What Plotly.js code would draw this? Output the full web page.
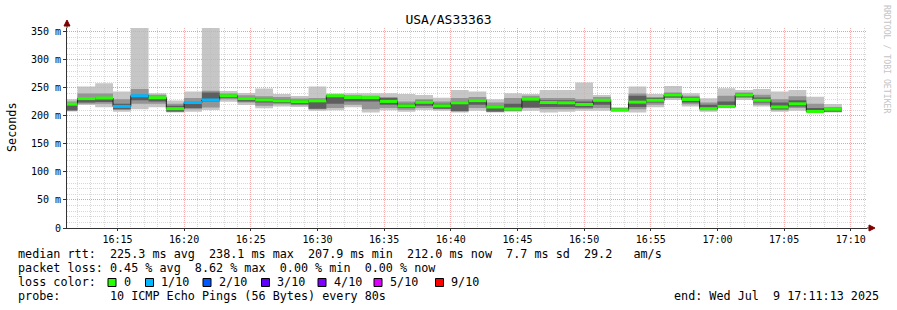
<!DOCTYPE html>
<html>
<head>
<meta charset="utf-8">
<script src="https://cdn.plot.ly/plotly-3.0.1.min.js"></script>
<style>
  html, body { margin: 0; padding: 0; background: #ffffff; }
  #chart { width: 897px; height: 310px; }
</style>
</head>
<body>
<div id="chart"></div>
<script>
// ---------- DATA (ms) ----------
const chartTitle = 'USA/AS33363';
const stepStartUTC = [2025, 6, 9, 16, 10, 40];   // first 80 s step start
const stepSeconds = 80;

// per-step median RTT (ms)
const median = [221, 231, 232, 217, 236, 232.5, 213, 224, 228.5, 236,
                231, 228.5, 227, 225.5, 227, 236, 233, 232.7, 226, 218,
                224.4, 218, 223.5, 227.4, 216, 212.5, 230, 224, 223.5, 220.5,
                228, 210.7, 224.7, 228, 237.5, 229.5, 213, 217, 237.5, 228,
                216, 221.7, 208, 212];
// per-step loss (pings lost out of 10)
const lossTenths = [0, 0, 0, 1, 1, 0, 0, 1, 1, 0,
                    0, 0, 0, 0, 0, 0, 0, 0, 0, 0,
                    0, 0, 0, 0, 0, 0, 0, 0, 0, 0,
                    0, 0, 0, 0, 0, 0, 0, 0, 0, 0,
                    0, 0, 0, 0];
// smoke: fastest / slowest ping
const pingMin = [208, 219.6, 215.5, 207.7, 212, 215.5, 206, 207.7, 210.7, 225.5,
                 219.6, 213.7, 217, 216, 209.5, 210, 215.5, 206, 210, 207.7,
                 210.7, 209.5, 206, 209.5, 206, 207.7, 209.5, 206, 207.7, 209.5,
                 209.5, 207.7, 206, 215.5, 228.6, 216.7, 207.7, 213.7, 228.6, 216.7,
                 207.7, 209.5, 206, 206];
const pingMax = [230, 252.4, 258.3, 243.5, 357, 240.5, 227.4, 243.5, 357, 244.6,
                 241, 249, 239.3, 235.7, 252.4, 240, 240.5, 240.5, 240.5, 239.3,
                 237.5, 232.7, 246.4, 243.5, 229.8, 240.5, 239.3, 246.4, 246.4, 259.5,
                 237.5, 215.5, 252.4, 239.3, 253.6, 240.5, 231.5, 249.4, 246.4, 248.2,
                 243.5, 246.4, 234.5, 221.4];
// smoke: middle spread of pings
const pingLowQ = [209, 222, 222, 211, 222, 222, 207, 212, 215, 230,
                  224, 218, 221, 219, 212, 214, 220, 212, 214, 211,
                  214, 212, 208, 214, 207, 209, 214, 212, 212, 213,
                  214, 208.5, 212, 220, 232, 221, 210, 215, 232, 220,
                  210, 214, 206.5, 207];
const pingHighQ = [226, 240, 240, 230, 248, 238, 222, 232, 245, 240,
                   237, 235, 234, 231, 232, 238, 237, 236, 234, 226,
                   230, 226, 232, 234, 224, 232, 236, 232, 232, 230,
                   234, 214, 240, 234, 242, 236, 224, 236, 242, 238,
                   230, 235, 222, 216];
// smoke: pings closest to the median
const pingLowC = [210, 224, 225, 212, 228, 226, 208, 214, 226, 232,
                  226, 224, 223, 221, 213, 222, 226, 226, 220, 214,
                  218, 213, 209, 220, 208, 210, 215, 216, 216, 215,
                  220, 209, 216, 224, 233, 224, 211, 215, 234, 224,
                  212, 217, 207, 208];
const pingHighC = [222, 232, 233, 222, 238, 234, 218, 226, 242, 238,
                   234, 231, 230, 228, 229, 237, 235, 234, 232, 222,
                   227, 222, 226, 230, 218, 222, 231, 228, 228, 226,
                   230, 213, 236, 232, 240, 233, 220, 226, 240, 233,
                   224, 228, 214, 214];

// legend texts
const statsRtt = 'median rtt:  225.3 ms avg  238.1 ms max  207.9 ms min  212.0 ms now  7.7 ms sd  29.2   am/s';
const statsLoss = 'packet loss: 0.45 % avg  8.62 % max  0.00 % min  0.00 % now';
const lossLabels = ['0', '1/10', '2/10', '3/10', '4/10', '5/10', '9/10'];
const lossColors = ['#26ff00', '#00b8ff', '#0059ff', '#5e00ff', '#7e00ff', '#dd00ff', '#ff0000'];
const probeText = 'probe:       10 ICMP Echo Pings (56 Bytes) every 80s';
const endText = 'end: Wed Jul  9 17:11:13 2025';
const yTickVals = [0, 50, 100, 150, 200, 250, 300, 350];
const yTickText = ['0', '50 m', '100 m', '150 m', '200 m', '250 m', '300 m', '350 m'];

// ---------- BUILD ----------
const MONO = 'DejaVu Sans Mono, monospace';
const t0 = Date.UTC.apply(null, stepStartUTC);
const nSteps = median.length;
const xs = [];
for (let i = 0; i <= nSteps; i++) xs.push(t0 + i * stepSeconds * 1000);
const stepY = a => a.concat([a[a.length - 1]]);

const traces = [];
function band(lo, hi, color) {
  traces.push({x: xs, y: stepY(lo), type: 'scatter', mode: 'lines',
    line: {shape: 'hv', width: 0, color: color}, hoverinfo: 'skip', showlegend: false});
  traces.push({x: xs, y: stepY(hi), type: 'scatter', mode: 'lines',
    line: {shape: 'hv', width: 0, color: color}, fill: 'tonexty', fillcolor: color,
    hoverinfo: 'skip', showlegend: false});
}
band(pingMin, pingMax, 'rgba(185,185,185,0.82)');
band(pingLowQ, pingHighQ, 'rgba(140,140,140,0.85)');
band(pingLowC, pingHighC, 'rgba(85,85,85,0.85)');

// black median stair line
traces.push({x: xs, y: stepY(median), type: 'scatter', mode: 'lines',
  line: {shape: 'hv', width: 1, color: '#202020'}, hoverinfo: 'skip', showlegend: false});

// loss-coloured median segments
const lossLevelIndex = {0: 0, 1: 1, 2: 2, 3: 3, 4: 4, 5: 5, 10: 6};
lossColors.forEach((c, ci) => {
  const sx = [], sy = [];
  for (let i = 0; i < nSteps; i++) {
    const li = lossTenths[i] >= 6 ? 6 : lossLevelIndex[lossTenths[i]];
    if (li === ci) { sx.push(xs[i], xs[i + 1], null); sy.push(median[i], median[i], null); }
  }
  if (sx.length) traces.push({x: sx, y: sy, type: 'scatter', mode: 'lines',
    line: {width: 3, color: c}, hoverinfo: 'skip', showlegend: false});
});

// ---------- LAYOUT ----------
const L = 67, T = 28, PW = 800, PH = 200;
const px = v => (v - L) / PW;        // figure px -> paper x
const py = v => (T + PH - v) / PH;   // figure px -> paper y

const ann = [];
function text(t, x, y, opts) {
  ann.push(Object.assign({text: t, xref: 'paper', yref: 'paper', x: px(x), y: py(y),
    xanchor: 'left', yanchor: 'middle', showarrow: false,
    font: {family: MONO, size: 11.75, color: '#000'}}, opts || {}));
}
text(statsRtt, 16, 254);
text(statsLoss, 16, 268);
text('loss color:', 16, 282);
text(probeText, 16, 296);
text(endText, 881, 296, {xanchor: 'right'});
text('Seconds', 12, 127, {xanchor: 'center', textangle: -90});
text('RRDTOOL / TOBI OETIKER', 887, 60,
  {xanchor: 'center', textangle: 90, font: {family: MONO, size: 8.2, color: '#c4c4c4'}});

const shapes = [];
const boxX = [108, 145.5, 203, 261.5, 318, 374, 435.5];
const labX = [121.5, 158.5, 216.5, 275, 331.5, 387.5, 449];
lossColors.forEach((c, i) => {
  shapes.push({type: 'rect', xref: 'paper', yref: 'paper',
    x0: px(boxX[i]), x1: px(boxX[i] + 8), y0: py(286.5), y1: py(278.5),
    line: {color: '#000', width: 1}, fillcolor: c});
  text(lossLabels[i], labX[i], 282);
});
// axis arrows
shapes.push({type: 'line', xref: 'paper', yref: 'paper', x0: 1, x1: px(871), y0: 0, y1: 0,
  line: {color: '#333', width: 1}});
shapes.push({type: 'path', xref: 'paper', yref: 'paper', xsizemode: 'pixel', ysizemode: 'pixel',
  xanchor: px(869), yanchor: 0, path: 'M 0,3 L 6,0 L 0,-3 Z', fillcolor: '#7f0000',
  line: {color: '#7f0000', width: 1}});
shapes.push({type: 'line', xref: 'paper', yref: 'paper', x0: 0, x1: 0, y0: 1, y1: py(24),
  line: {color: '#333', width: 1}});
shapes.push({type: 'path', xref: 'paper', yref: 'paper', xsizemode: 'pixel', ysizemode: 'pixel',
  xanchor: 0, yanchor: py(26), path: 'M -3,0 L 3,0 L 0,6 Z', fillcolor: '#7f0000',
  line: {color: '#7f0000', width: 1}});

const xStart = Date.UTC(2025, 6, 9, 16, 11, 13);
const xEnd = Date.UTC(2025, 6, 9, 17, 11, 13);
const layout = {
  width: 897, height: 310,
  margin: {l: L, r: 897 - L - PW, t: T, b: 310 - T - PH, pad: 0},
  paper_bgcolor: '#ffffff', plot_bgcolor: '#ffffff',
  showlegend: false,
  title: {text: chartTitle, x: 0.5, xref: 'container', xanchor: 'center',
    y: 1 - 19 / 310, yref: 'container', yanchor: 'middle',
    font: {family: MONO, size: 13, color: '#000'}},
  xaxis: {
    type: 'date', range: [xStart, xEnd], fixedrange: true,
    tick0: Date.UTC(2025, 6, 9, 16, 15, 0), dtick: 300000, tickformat: '%H:%M',
    tickfont: {family: MONO, size: 10, color: '#000'},
    showgrid: true, gridcolor: 'rgba(240,130,130,0.65)', griddash: '1px,1px', gridwidth: 1,
    minor: {dtick: 60000, tick0: Date.UTC(2025, 6, 9, 16, 15, 0), showgrid: true,
      gridcolor: '#d8d8d8', griddash: '1px,1px', gridwidth: 1},
    showline: true, linecolor: '#333', linewidth: 1, zeroline: false,
    ticks: 'outside', ticklen: 2, tickcolor: '#333', layer: 'above traces'
  },
  yaxis: {
    range: [0, 357], fixedrange: true,
    tickmode: 'array', tickvals: yTickVals, ticktext: yTickText,
    tickfont: {family: MONO, size: 10, color: '#000'},
    showgrid: true, gridcolor: 'rgba(240,130,130,0.65)', griddash: '1px,1px', gridwidth: 1,
    minor: {dtick: 10, tick0: 0, showgrid: true, gridcolor: '#d8d8d8', griddash: '1px,1px', gridwidth: 1},
    showline: true, linecolor: '#333', linewidth: 1, zeroline: false,
    ticks: 'outside', ticklen: 3, tickcolor: '#333', layer: 'above traces'
  },
  annotations: ann,
  shapes: shapes
};

Plotly.newPlot('chart', traces, layout, {staticPlot: true, displayModeBar: false});
</script>
</body>
</html>
